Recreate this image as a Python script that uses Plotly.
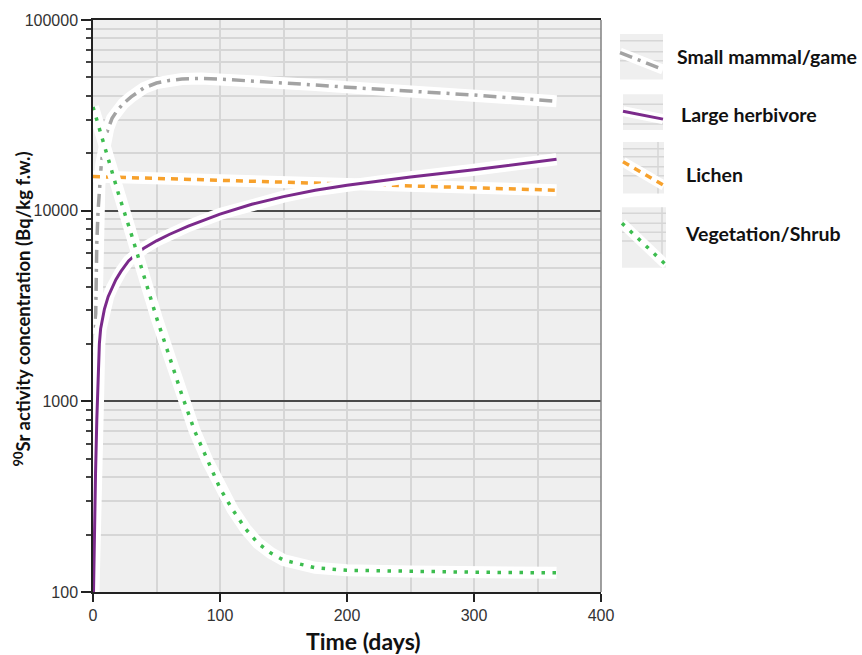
import plotly.graph_objects as go

# ---- data (days, Bq/kg f.w.) ----
days_mammal = [0.7, 1.0, 1.3, 2, 3, 4, 5, 6.5, 8, 10, 12, 15, 19, 24, 30, 40, 50, 60, 70, 85,
               100, 125, 150, 175, 200, 250, 300, 365]
sr_mammal = [700, 1000, 1350, 2800, 6800, 10000, 13500, 17500, 21000, 24500, 27000, 30500, 33500,
             36500, 39500, 44000, 46700, 48200, 49000, 49400, 49000, 48000, 46800, 45600, 44400,
             42300, 40400, 37500]

days_herbivore = [0.4, 1, 1.5, 2, 3, 4, 5, 6, 7.5, 9, 12, 15, 18, 22, 28, 35, 40, 50, 60, 75,
                  100, 125, 150, 175, 200, 250, 300, 365]
sr_herbivore = [100, 200, 300, 420, 800, 1300, 2000, 2400, 2750, 3050, 3550, 3950, 4350, 4800,
                5450, 6000, 6350, 6950, 7500, 8300, 9600, 10800, 11850, 12800, 13600, 15000,
                16400, 18600]

days_lichen = [0, 50, 100, 150, 200, 250, 300, 365]
sr_lichen = [15100, 14750, 14400, 14050, 13750, 13400, 13100, 12800]

days_veg = [0, 10, 20, 30, 40, 50, 60, 70, 80, 90, 100, 110, 120, 130, 140, 150, 175, 200,
            250, 300, 365]
sr_veg = [35000, 20500, 12300, 7600, 4500, 2750, 1730, 1080, 700, 490, 350, 270, 215, 180,
          160, 147, 134, 130, 128, 127, 126]

x_ticks = [0, 100, 200, 300, 400]
y_ticks = [100, 1000, 10000, 100000]
y_tick_text = ["100", "1000", "10000", "100000"]

series = [
    ("Small mammal/game", days_mammal, sr_mammal, "#a3a3a3", "13px,6px,3px,6px", 3.5),
    ("Lichen", days_lichen, sr_lichen, "#f7a12c", "7px,6px", 3.5),
    ("Large herbivore", days_herbivore, sr_herbivore, "#7b2a8b", "solid", 3),
    ("Vegetation/Shrub", days_veg, sr_veg, "#3dbd4f", "3.5px,7.5px", 3.5),
]

fig = go.Figure()
for name, xs, ys, color, dash, width in series:
    # white halo under each curve
    fig.add_trace(go.Scatter(x=xs, y=ys, mode="lines", showlegend=False, hoverinfo="skip",
                             line=dict(color="white", width=12)))
    fig.add_trace(go.Scatter(x=xs, y=ys, mode="lines", name=name, showlegend=False,
                             line=dict(color=color, width=width, dash=dash)))

# plot frame in pixels
W, H = 862, 655
L, R, T, B = 93, 601, 15, 592
pw, ph = R - L, B - T


def px(x):
    return (x - L) / pw


def py(y):
    return (B - y) / ph


minor_y = [m * 10 ** e for e in (2, 3, 4) for m in range(2, 10)]

fig.update_layout(
    width=W, height=H, autosize=False,
    margin=dict(l=L, r=W - R, t=T, b=H - B),
    paper_bgcolor="white", plot_bgcolor="#efefef",
    font=dict(family="Liberation Sans", size=16, color="#333333"),
    xaxis=dict(
        range=[0, 400], tickvals=x_ticks, ticks="outside", ticklen=8, tickwidth=1.5,
        tickcolor="#222", showline=True, linecolor="#222", linewidth=1.5, mirror=True,
        showgrid=True, gridcolor="#d6d6d6", gridwidth=1.5, zeroline=False,
        minor=dict(tickvals=[50, 150, 250, 350], showgrid=True, gridcolor="#d6d6d6",
                   gridwidth=1.5, ticks=""),
    ),
    yaxis=dict(
        type="log", range=[2, 5], tickvals=y_ticks, ticktext=y_tick_text,
        ticks="outside", ticklen=10, tickwidth=1.5, tickcolor="#222",
        showline=True, linecolor="#222", linewidth=1.5,
        showgrid=True, gridcolor="#4a4a4a", gridwidth=1.6, zeroline=False,
        minor=dict(tickvals=minor_y, ticks="outside", ticklen=5, tickcolor="#444",
                   showgrid=True, gridcolor="#d6d6d6", gridwidth=1.5),
    ),
)

shapes = [dict(type="line", xref="paper", yref="paper", x0=1, x1=1, y0=0, y1=1,
               line=dict(color="#808080", width=1.5), layer="above")]
annotations = [
    dict(text="Time (days)", xref="paper", yref="paper", x=px(363), y=py(641),
         xanchor="center", yanchor="middle", showarrow=False,
         font=dict(family="Lato", size=23, color="#111", weight="bold")),
    dict(text="<sup>90</sup>Sr activity concentration (Bq/kg f.w.)", xref="paper",
         yref="paper", x=px(22), y=py(307), textangle=-90, xanchor="center",
         yanchor="middle", showarrow=False,
         font=dict(family="Lato", size=18.5, color="#111", weight="bold")),
]

# legend swatches: box, inner grid, haloed line sample and label
legend_items = [
    # box (x0, y0, x1, y1), grid ys, grid xs, line (x0, y0, x1, y1), label (x, y)
    ((620, 29, 663, 75), [36, 47, 56], [], (620, 48, 663, 65), (675, 52)),
    ((623, 90, 663, 126), [100, 120], [], (623, 107, 663, 115), (679, 110)),
    ((623, 138, 664, 190), [145, 153, 163, 172], [658], (623, 158, 664, 182), (684, 171)),
    ((622, 204, 666, 265), [210, 220, 229, 238], [662], (622, 220, 666, 262), (683, 230)),
]
order = [0, 2, 1, 3]
for idx, (box, gys, gxs, ln, lab) in zip(order, legend_items):
    name, _, _, color, dash, width = series[idx]
    bx0, by0, bx1, by1 = box
    shapes.append(dict(type="rect", xref="paper", yref="paper", x0=px(bx0), x1=px(bx1),
                       y0=py(by1), y1=py(by0), fillcolor="#efefef", line=dict(width=0),
                       layer="above"))
    for gy in gys:
        shapes.append(dict(type="line", xref="paper", yref="paper", x0=px(bx0), x1=px(bx1),
                           y0=py(gy), y1=py(gy), line=dict(color="#d6d6d6", width=1.5),
                           layer="above"))
    for gx in gxs:
        shapes.append(dict(type="line", xref="paper", yref="paper", x0=px(gx), x1=px(gx),
                           y0=py(by1), y1=py(by0), line=dict(color="#d6d6d6", width=1.5),
                           layer="above"))
    lx0, ly0, lx1, ly1 = ln
    shapes.append(dict(type="line", xref="paper", yref="paper", x0=px(lx0), x1=px(lx1),
                       y0=py(ly0), y1=py(ly1), line=dict(color="white", width=10),
                       layer="above"))
    shapes.append(dict(type="line", xref="paper", yref="paper", x0=px(lx0), x1=px(lx1),
                       y0=py(ly0), y1=py(ly1), line=dict(color=color, width=width, dash=dash),
                       layer="above"))
    annotations.append(dict(text=name, xref="paper", yref="paper", x=px(lab[0]), y=py(lab[1]),
                            xanchor="left", yanchor="middle", showarrow=False,
                            font=dict(family="Lato", size=19.5, color="#111", weight="bold")))

fig.update_layout(shapes=shapes, annotations=annotations)
fig.write_html("out.html")
